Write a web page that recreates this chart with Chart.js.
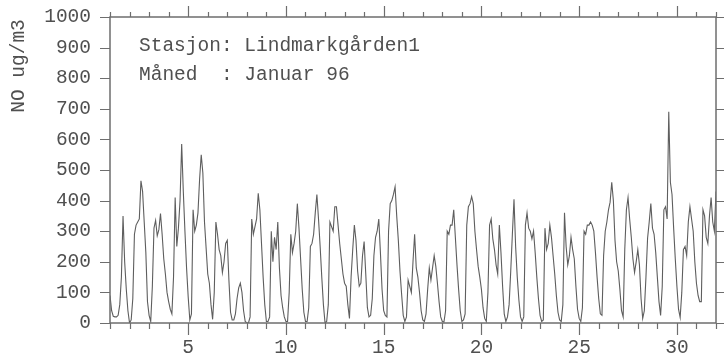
<!DOCTYPE html>
<html>
<head>
<meta charset="utf-8">
<script src="https://cdn.jsdelivr.net/npm/chart.js@4.4.1/dist/chart.umd.min.js"></script>
<style>
  html, body { margin: 0; padding: 0; background: #fff; }
  #wrap { width: 724px; height: 364px; }
</style>
</head>
<body>
<div id="wrap"><canvas id="noChart" width="724" height="364"></canvas></div>
<script>
// NO, Lindmarkgården1, januar 1996 - one reading every 2 hours
const stepHours = 2;

// Jan 1 - 7
const week1 = [
  90, 40, 22, 20, 20, 25, 60, 150, 350, 200, 110, 40,
  0, 10, 80, 290, 320, 330, 340, 465, 430, 330, 230, 70,
  25, 5, 120, 310, 335, 285, 305, 358, 290, 210, 160, 100,
  70, 45, 30, 150, 410, 250, 310, 400, 585, 430, 300, 180,
  85, 10, 30, 370, 300, 320, 360, 470, 550, 490, 330, 245,
  160, 130, 60, 12, 100, 330, 290, 240, 220, 165, 200, 260,
  270, 140, 35, 10, 10, 30, 80, 115, 130, 100, 40, 5
];
// Jan 8 - 14
const week2 = [
  0, 0, 20, 340, 290, 315, 340, 424, 370, 260, 150, 60,
  5, 5, 20, 300, 200, 280, 240, 330, 180, 90, 50, 20,
  5, 5, 100, 290, 230, 260, 300, 390, 310, 210, 110, 35,
  5, 5, 50, 250, 260, 290, 360, 420, 340, 250, 150, 60,
  0, 5, 60, 330, 315, 300, 380, 380, 320, 260, 210, 160,
  130, 120, 60, 15, 150, 240, 320, 270, 170, 120, 130, 220,
  266, 160, 50, 20, 25, 80, 220, 280, 300, 340, 230, 110
];
// Jan 15 - 21
const week3 = [
  40, 25, 20, 300, 390, 400, 420, 445, 350, 270, 170, 95,
  25, 5, 20, 140, 120, 100, 200, 290, 180, 150, 100, 40,
  10, 5, 30, 110, 180, 140, 180, 220, 185, 130, 70, 20,
  5, 3, 40, 300, 290, 320, 320, 370, 280, 190, 110, 40,
  5, 10, 30, 320, 380, 390, 413, 390, 300, 240, 185, 150,
  110, 50, 15, 5, 100, 320, 340, 275, 240, 190, 160, 320,
  230, 120, 30, 5, 20, 60, 170, 290, 404, 250, 150, 75
];
// Jan 22 - 28
const week4 = [
  20, 5, 20, 320, 360, 310, 300, 275, 300, 230, 150, 80,
  25, 5, 10, 310, 240, 260, 320, 280, 220, 160, 90, 35,
  10, 5, 60, 360, 250, 190, 220, 280, 240, 210, 120, 45,
  15, 5, 50, 300, 290, 320, 320, 330, 320, 300, 230, 150,
  80, 30, 25, 220, 300, 330, 370, 395, 460, 400, 270, 200,
  170, 110, 40, 20, 240, 370, 410, 340, 280, 210, 165, 200,
  240, 190, 80, 15, 40, 150, 277, 330, 390, 310, 290, 230
];
// Jan 29 - 31 (+ last reading at midnight)
const week5 = [
  150, 70, 25, 120, 370, 380, 340, 690, 460, 420, 310, 210,
  120, 45, 18, 100, 240, 250, 220, 330, 380, 340, 300, 200,
  130, 90, 70, 70, 370, 350, 280, 260, 350, 410, 330, 300,
  430
];

const labelDays = [5, 10, 15, 20, 25, 30];
const stationText = 'Stasjon: Lindmarkgården1';
const monthText = 'Måned  : Januar 96';
const yTitle = 'NO ug/m3';

const values = [...week1, ...week2, ...week3, ...week4, ...week5];
const points = values.map((v, i) => ({ x: 1 + i * stepHours / 24, y: v }));

const textColor = '#505050';
const axisColor = '#6e6e6e';
const mono = "'Liberation Mono', 'Courier New', monospace";

// frame, tick marks (long every 5 days) and the texts
const frameAndTicks = {
  id: 'frameAndTicks',
  afterDatasetsDraw(chart) {
    const { ctx, chartArea: a, scales: { x, y } } = chart;
    ctx.save();
    ctx.strokeStyle = axisColor;
    ctx.lineWidth = 1.5;
    ctx.strokeRect(a.left, a.top, a.right - a.left, a.bottom - a.top);
    ctx.lineWidth = 1.2;
    ctx.beginPath();
    x.ticks.forEach(t => {
      const px = Math.round(x.getPixelForValue(t.value)) + 0.5;
      const major = labelDays.includes(t.value);
      ctx.moveTo(px, a.bottom); ctx.lineTo(px, a.bottom + (major ? 12 : 6));
      ctx.moveTo(px, a.top); ctx.lineTo(px, a.top - (major ? 11 : 5));
    });
    y.ticks.forEach(t => {
      const py = Math.round(y.getPixelForValue(t.value)) + 0.5;
      ctx.moveTo(a.left - 10, py); ctx.lineTo(a.left, py);
      ctx.moveTo(a.right, py); ctx.lineTo(a.right + 8, py);
    });
    ctx.stroke();

    ctx.fillStyle = textColor;
    ctx.font = '19.5px ' + mono;
    ctx.textBaseline = 'alphabetic';
    ctx.fillText(stationText, a.left + 29, a.top + 34);
    ctx.fillText(monthText, a.left + 29, a.top + 63);

    ctx.translate(19, 66);
    ctx.rotate(-Math.PI / 2);
    ctx.textAlign = 'center';
    ctx.textBaseline = 'middle';
    ctx.fillText(yTitle, 0, 0);
    ctx.restore();
  }
};

const ctx = document.getElementById('noChart').getContext('2d');
new Chart(ctx, {
  type: 'line',
  data: {
    datasets: [{
      data: points,
      borderColor: '#5e5e5e',
      borderWidth: 1.1,
      pointRadius: 0,
      tension: 0,
      fill: false
    }]
  },
  options: {
    responsive: false,
    animation: false,
    devicePixelRatio: 1,
    layout: { padding: 0 },
    plugins: { legend: { display: false }, tooltip: { enabled: false } },
    scales: {
      x: {
        type: 'linear', position: 'bottom', min: 1, max: 32,
        grid: { display: false, drawTicks: false },
        border: { display: false },
        ticks: {
          stepSize: 1, autoSkip: false, maxRotation: 0, padding: 13,
          color: textColor, font: { family: mono, size: 19.5 },
          callback: v => labelDays.includes(v) ? String(v) : ''
        },
        afterFit: s => { s.height = 41; s.paddingLeft = 0; s.paddingRight = 0; }
      },
      xTop: {
        type: 'linear', position: 'top', min: 1, max: 32,
        grid: { display: false, drawTicks: false },
        border: { display: false },
        ticks: { display: false },
        afterFit: s => { s.height = 17; s.paddingLeft = 0; s.paddingRight = 0; }
      },
      y: {
        position: 'left', min: 0, max: 1000,
        grid: { display: false, drawTicks: false },
        border: { display: false },
        ticks: {
          stepSize: 100, padding: 19,
          color: textColor, font: { family: mono, size: 19.5 },
          callback: v => String(v)
        },
        afterFit: s => { s.width = 110; s.paddingTop = 0; s.paddingBottom = 0; }
      },
      yRight: {
        position: 'right', min: 0, max: 1000,
        grid: { display: false, drawTicks: false },
        border: { display: false },
        ticks: { display: false },
        afterFit: s => { s.width = 8; s.paddingTop = 0; s.paddingBottom = 0; }
      }
    }
  },
  plugins: [frameAndTicks]
});
</script>
</body>
</html>
